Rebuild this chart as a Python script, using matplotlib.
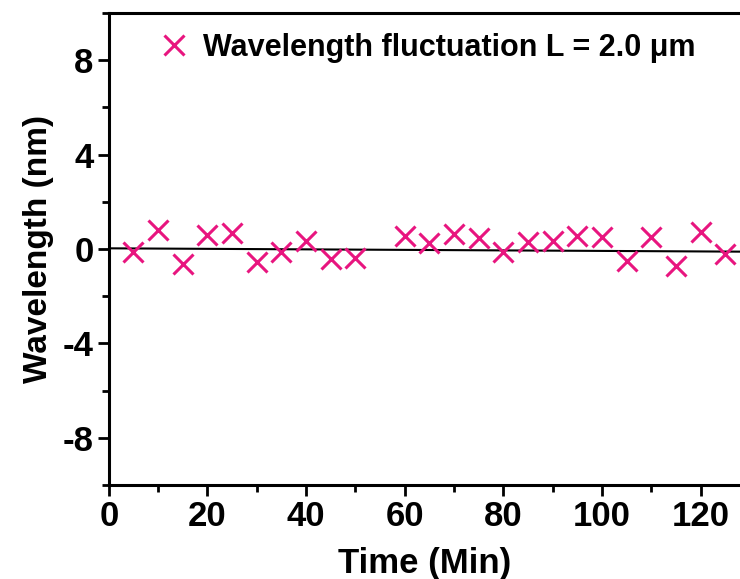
import numpy as np
import matplotlib
matplotlib.use("Agg")
import matplotlib.pyplot as plt
from matplotlib.ticker import MultipleLocator

plt.rcParams['font.family'] = ['Liberation Sans', 'DejaVu Sans']
plt.rcParams['font.weight'] = 'bold'
plt.rcParams['axes.unicode_minus'] = False

time_min = [5, 10, 15, 20, 25, 30, 35, 40, 45, 50,
            60, 65, 70, 75, 80, 85, 90, 95, 100, 105, 110, 115, 120, 125]
wavelength_nm = [-0.14, 0.82, -0.64, 0.59, 0.66, -0.56, -0.14, 0.35, -0.42, -0.40,
                 0.56, 0.24, 0.64, 0.45, -0.14, 0.28, 0.35, 0.54, 0.49, -0.49,
                 0.49, -0.71, 0.71, -0.21]
fit_coef = [-0.0011, 0.03]  # slope, intercept of the linear fit line
x_ticks = [0, 20, 40, 60, 80, 100, 120]
y_ticks = [-8, -4, 0, 4, 8]

fig = plt.figure(figsize=(7.4, 5.79), dpi=100)
ax = fig.add_axes([0.147, 0.1623, 0.853, 0.8152])

xs = np.array([0, 130])
ax.plot(xs, np.polyval(fit_coef, xs), color='black', lw=1.5, zorder=2)
ax.plot(time_min, wavelength_nm, linestyle='none', marker='x', color='#E8157F',
        markersize=15, markeredgewidth=2.2, zorder=3,
        label='Wavelength fluctuation L = 2.0 \u03bcm')

ax.set_xlim(0, 128)
ax.set_ylim(-10, 10)
ax.set_xticks(x_ticks)
ax.set_yticks(y_ticks)
ax.xaxis.set_minor_locator(MultipleLocator(10))
ax.yaxis.set_minor_locator(MultipleLocator(2))
ax.tick_params(which='major', direction='out', length=8, width=2, labelsize=25, pad=3)
ax.tick_params(which='minor', direction='out', length=5, width=2)
for lab in ax.get_xticklabels() + ax.get_yticklabels():
    lab.set_fontweight('bold')

for s in ['left', 'bottom', 'top']:
    ax.spines[s].set_linewidth(2.2)
ax.spines['right'].set_visible(False)

ax.set_xlabel('Time (Min)', fontsize=25, fontweight='bold', labelpad=10)
ax.set_ylabel('Wavelength (nm)', fontsize=24, fontweight='bold', labelpad=6)

leg = ax.legend(loc='upper left', bbox_to_anchor=(0.04, 1.01), frameon=False,
                prop={'size': 22, 'weight': 'bold'}, handletextpad=0.45,
                borderaxespad=0.4, handlelength=1.0)

fig.savefig('out.png', dpi=100)
